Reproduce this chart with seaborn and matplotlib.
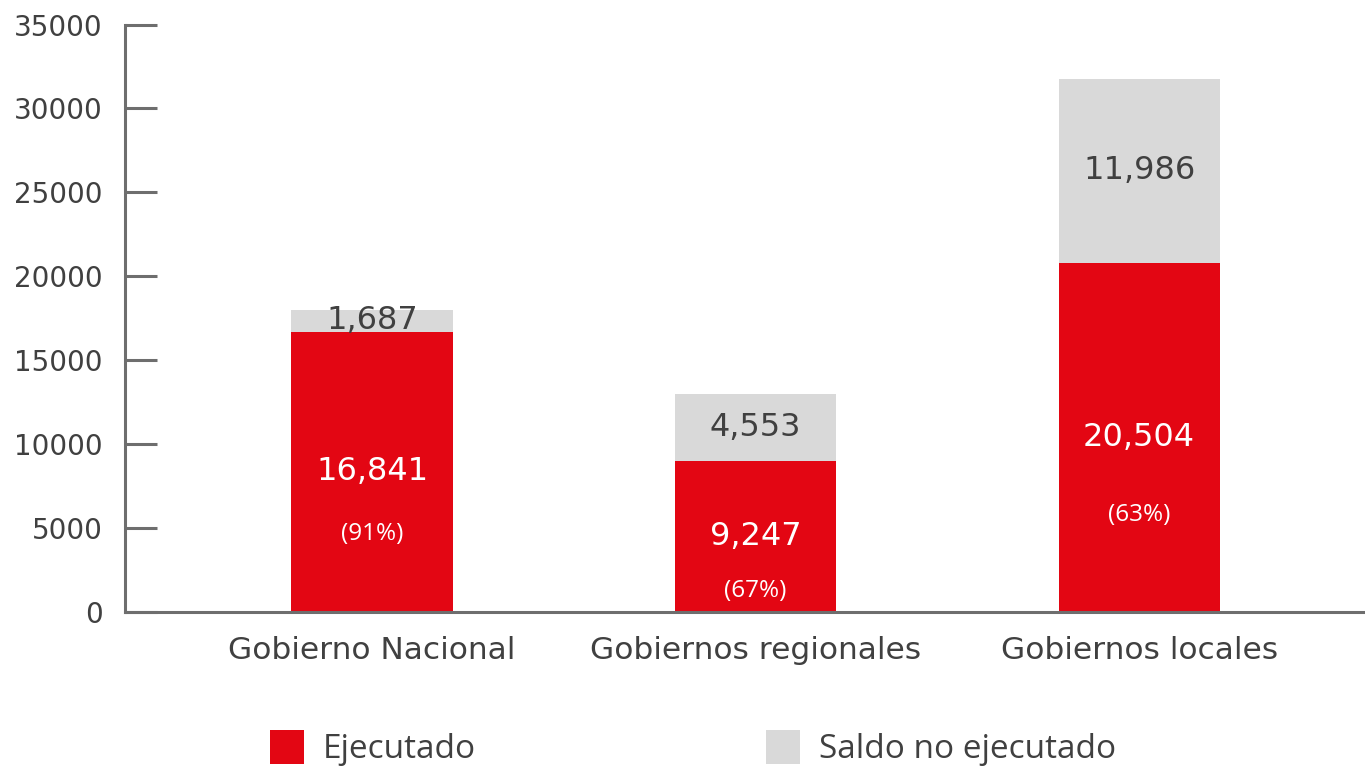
import matplotlib
matplotlib.use("Agg")
import matplotlib.pyplot as plt
from matplotlib.patches import Patch
import seaborn as sns
import pandas as pd

# ---- data ----
categories = ["Gobierno Nacional", "Gobiernos regionales", "Gobiernos locales"]
ejecutado = [16700, 9000, 20800]          # height of red segment as drawn
presupuesto_total = [18000, 13000, 31750]  # top of grey segment as drawn
label_ejecutado = ["16,841", "9,247", "20,504"]
label_saldo = ["1,687", "4,553", "11,986"]
label_pct = ["(91%)", "(67%)", "(63%)"]
y_ticks = [0, 5000, 10000, 15000, 20000, 25000, 30000, 35000]

# ---- layout / style ----
RED = "#E30613"
GREY = "#D9D9D9"
TXT = "#404040"
AXC = "#6E6E6E"
pct_offset_px = [62, 55, 78]

sns.set_theme(style="white")
plt.rcParams["font.family"] = ["DejaVu Sans"]

fig = plt.figure(figsize=(13.65, 7.67), dpi=100)
ax = fig.add_axes([125 / 1365, (767 - 612) / 767, (1365 - 125) / 1365, (612 - 24.5) / 767])

df = pd.DataFrame({"cat": categories, "eje": ejecutado, "tot": presupuesto_total})
sns.barplot(data=df, x="cat", y="tot", color=GREY, saturation=1, width=0.42,
            linewidth=0, ax=ax)
sns.barplot(data=df, x="cat", y="eje", color=RED, saturation=1, width=0.42,
            linewidth=0, ax=ax)

ax.set_xlim(-0.644, 2.589)
ax.set_ylim(0, 35000)
ax.set_yticks(y_ticks)
ax.set_yticklabels([str(v) for v in y_ticks])
ax.set_xlabel("")
ax.set_ylabel("")

for s in ["top", "right"]:
    ax.spines[s].set_visible(False)
for s in ["left", "bottom"]:
    ax.spines[s].set_color(AXC)
    ax.spines[s].set_linewidth(2.2)

ax.tick_params(axis="y", left=True, direction="in", length=23, width=2.2, color=AXC,
               labelsize=20, labelcolor=TXT, pad=16)
ax.tick_params(axis="x", bottom=False, length=0, labelsize=22.5, labelcolor=TXT, pad=17)

for i in range(len(categories)):
    e = ejecutado[i]
    t = presupuesto_total[i]
    ax.text(i, e / 2, label_ejecutado[i], ha="center", va="center",
            fontsize=23, color="white")
    ax.text(i, (e + t) / 2, label_saldo[i], ha="center", va="center",
            fontsize=23, color=TXT)
    ax.annotate(label_pct[i], xy=(i, e / 2), xytext=(0, -pct_offset_px[i] * 0.72),
                textcoords="offset points", ha="center", va="center",
                fontsize=17.5, color="white", family=["Open Sans", "DejaVu Sans"])

handles = [Patch(facecolor=RED, edgecolor="none"), Patch(facecolor=GREY, edgecolor="none")]
fs = 24
fs_px = fs / 0.72
fig.legend(handles, ["Ejecutado", "Saldo no ejecutado"], loc="center left",
           bbox_to_anchor=(270 / 1365, 1 - 748 / 767), ncol=2, frameon=False,
           prop={"family": ["Open Sans", "DejaVu Sans"], "size": fs},
           labelcolor=TXT, handlelength=34 / fs_px, handleheight=1.22,
           handletextpad=19 / fs_px, columnspacing=290 / fs_px,
           borderpad=0, borderaxespad=0)

fig.savefig("out.png", dpi=100)
